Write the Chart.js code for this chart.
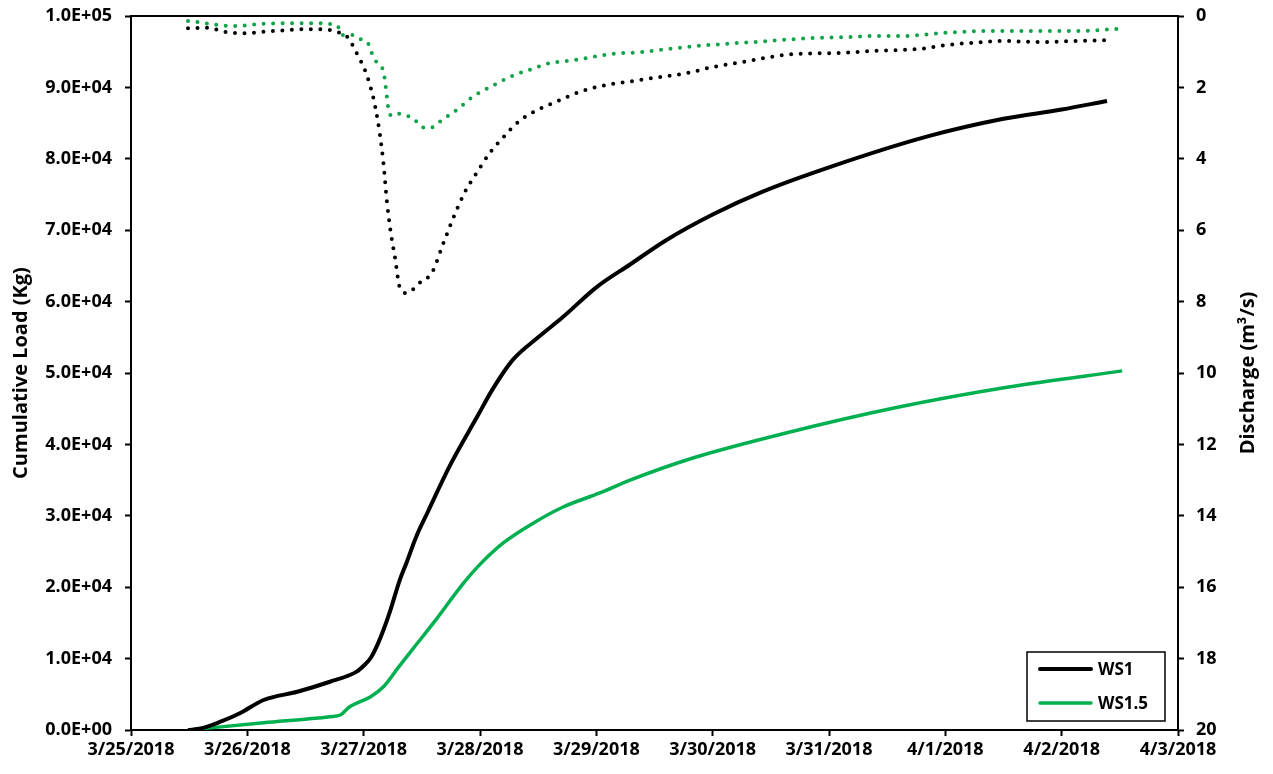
<!DOCTYPE html>
<html>
<head>
<meta charset="utf-8">
<script src="https://cdn.jsdelivr.net/npm/chart.js@4/dist/chart.umd.min.js"></script>
<style>
html,body{margin:0;padding:0;background:#fff;}
#wrap{width:1273px;height:774px;position:relative;}
</style>
</head>
<body>
<div id="wrap"><canvas id="c" width="1273" height="774"></canvas></div>
<script>
// X tick labels (one per day, starting 3/25/2018 at x = 0)
const dateLabels = ['3/25/2018','3/26/2018','3/27/2018','3/28/2018','3/29/2018','3/30/2018','3/31/2018','4/1/2018','4/2/2018','4/3/2018'];
const dischargeTicks = [0,2,4,6,8,10,12,14,16,18,20];

// WS1 cumulative load (days since 3/25/2018, kg)
const ws1LoadTime = [0.49,0.6,0.77,0.94,1.14,1.43,1.71,1.94,2.0,2.06,2.12,2.17,2.23,2.31,2.37,2.45,2.55,2.74,2.98,3.1,3.28,3.5,3.71,4.0,4.29,4.6,5.0,5.43,6.0,6.84,7.5,8.0,8.39];
const ws1Load     = [0,200,1160,2380,4200,5360,6760,8170,9000,10080,12000,14000,16800,21000,23500,27000,30500,37000,44000,47500,51800,55000,57800,62000,65200,68600,72200,75400,78800,83100,85600,86900,88100];

// WS1.5 cumulative load
const ws15LoadTime = [0.49,1.14,1.71,1.8,1.88,2.06,2.17,2.3,2.43,2.6,2.86,3.0,3.2,3.45,3.71,4.03,4.29,4.83,5.63,6.59,7.53,8.52];
const ws15Load     = [0,1000,1860,2100,3260,4670,6060,8800,11500,15000,20600,23200,26200,28900,31200,33200,35000,38100,41600,45200,48000,50300];

// WS1 discharge (m3/s)
const ws1QTime = [0.49,0.65,0.82,0.98,1.22,1.54,1.71,1.78,1.86,1.94,2.01,2.06,2.10,2.14,2.17,2.20,2.23,2.27,2.31,2.37,2.48,2.59,2.68,2.77,2.87,2.96,3.09,3.20,3.30,3.43,3.65,3.86,4.09,4.32,4.48,4.78,5.00,5.26,5.49,5.73,6.04,6.38,6.78,7.02,7.33,7.50,7.82,8.13,8.44];
const ws1Q     = [0.34,0.33,0.45,0.48,0.42,0.37,0.39,0.45,0.59,1.04,1.51,2.0,2.55,3.33,4.12,5.2,6.0,6.78,7.6,7.76,7.48,7.17,6.41,5.66,4.93,4.45,3.81,3.40,3.05,2.74,2.41,2.12,1.93,1.82,1.74,1.60,1.43,1.29,1.15,1.06,1.04,0.98,0.92,0.81,0.73,0.70,0.73,0.70,0.67];

// WS1.5 discharge (m3/s)
const ws15QTime = [0.49,0.58,0.74,0.91,1.13,1.39,1.63,1.71,1.78,1.81,1.91,1.97,2.04,2.07,2.11,2.16,2.18,2.19,2.20,2.21,2.24,2.31,2.38,2.44,2.50,2.57,2.63,2.69,2.76,2.82,2.89,2.95,3.02,3.09,3.16,3.30,3.45,3.60,3.75,3.91,4.14,4.39,4.63,4.87,5.11,5.35,5.60,5.84,6.16,6.41,6.64,6.96,7.36,7.76,8.10,8.50];
const ws15Q     = [0.14,0.17,0.25,0.28,0.22,0.20,0.20,0.22,0.30,0.53,0.53,0.64,0.78,1.04,1.29,1.46,1.73,1.99,2.27,2.55,2.80,2.74,2.80,2.91,3.11,3.14,3.02,2.88,2.72,2.58,2.38,2.24,2.10,1.99,1.86,1.65,1.48,1.32,1.26,1.18,1.06,1.01,0.92,0.84,0.78,0.73,0.67,0.62,0.59,0.56,0.56,0.48,0.42,0.42,0.42,0.36];

function pts(t, v){ return t.map((x,i)=>({x:x, y:v[i]})); }

const FONT = "'Open Sans', 'Noto Sans', sans-serif";
const BLACK = '#000000';
const GREEN = '#00B050';
const GREEN_DOT = '#10A348';

function sci(v){
  if (v === 0) return '0.0E+00';
  const e = Math.floor(Math.log10(Math.abs(v)) + 1e-9);
  const m = v / Math.pow(10, e);
  return m.toFixed(1) + 'E' + (e >= 0 ? '+' : '-') + String(Math.abs(e)).padStart(2,'0');
}

const frame = {
  id: 'frame',
  afterDraw(chart){
    const {ctx, chartArea:a} = chart;
    ctx.save();
    ctx.strokeStyle = '#000'; ctx.lineWidth = 2;
    ctx.beginPath(); ctx.moveTo(a.left, a.top); ctx.lineTo(a.right, a.top); ctx.stroke();
    ctx.fillStyle = '#000';
    ctx.font = 'bold 20px ' + FONT;
    ctx.translate(1248, (a.top + a.bottom)/2);
    ctx.rotate(-Math.PI/2);
    ctx.textAlign = 'center'; ctx.textBaseline = 'middle';
    ctx.fillText('Discharge (m\u00B3/s)', 0, 0);
    ctx.restore();

    ctx.save();
    const bx = 1027, by = 652, bw = 138, bh = 69;
    ctx.fillStyle = '#fff'; ctx.fillRect(bx, by, bw, bh);
    ctx.strokeStyle = '#000'; ctx.lineWidth = 1.5;
    ctx.strokeRect(bx, by, bw, bh);
    const items = chart.data.datasets.filter(d => d.inLegend);
    items.forEach((d, i) => {
      const y = 669 + i*34;
      ctx.strokeStyle = d.borderColor; ctx.lineWidth = d.borderWidth;
      ctx.lineCap = 'round';
      ctx.beginPath(); ctx.moveTo(1040, y); ctx.lineTo(1091, y); ctx.stroke();
      ctx.fillStyle = '#000'; ctx.font = 'bold 17px ' + FONT;
      ctx.textAlign = 'left'; ctx.textBaseline = 'middle';
      ctx.fillText(d.label, 1098, y + 1);
    });
    ctx.restore();
  }
};

function vFit(w){ return function(s){ s.width = w; s.paddingTop = 0; s.paddingBottom = 0; }; }

new Chart(document.getElementById('c'), {
  type: 'line',
  data: {
    datasets: [
      { label: 'WS1 Q', data: pts(ws1QTime, ws1Q), yAxisID: 'y2', borderColor: BLACK, borderWidth: 4, borderDash: [0, 9.5], borderCapStyle: 'round', pointRadius: 0, cubicInterpolationMode: 'monotone', fill: false },
      { label: 'WS1.5 Q', data: pts(ws15QTime, ws15Q), yAxisID: 'y2', borderColor: GREEN_DOT, borderWidth: 4, borderDash: [0, 9.5], borderCapStyle: 'round', pointRadius: 0, cubicInterpolationMode: 'monotone', fill: false },
      { label: 'WS1', inLegend: true, data: pts(ws1LoadTime, ws1Load), yAxisID: 'y', borderColor: BLACK, borderWidth: 4, pointRadius: 0, cubicInterpolationMode: 'monotone', fill: false },
      { label: 'WS1.5', inLegend: true, data: pts(ws15LoadTime, ws15Load), yAxisID: 'y', borderColor: GREEN, borderWidth: 3.5, pointRadius: 0, cubicInterpolationMode: 'monotone', fill: false }
    ]
  },
  options: {
    responsive: false,
    animation: false,
    layout: { padding: { top: 16, left: 0, right: 0, bottom: 0 } },
    plugins: { legend: { display: false }, tooltip: { enabled: false } },
    scales: {
      x: {
        type: 'linear', min: 0, max: 9,
        afterFit(s){ s.height = 44; s.paddingLeft = 0; s.paddingRight = 0; },
        afterBuildTicks(s){ s.ticks = dateLabels.map((_, i) => ({ value: i })); },
        ticks: { stepSize: 1, color: '#000', font: { family: FONT, size: 18, weight: 'bold' }, padding: 3, maxRotation: 0, autoSkip: false,
                 callback: (v) => dateLabels[v] },
        grid: { drawOnChartArea: false, tickLength: 6, tickWidth: 2, color: '#000' },
        border: { color: '#000', width: 2 }
      },
      y: {
        position: 'left', min: 0, max: 100000,
        afterFit: vFit(131),
        ticks: { stepSize: 10000, color: '#000', font: { family: FONT, size: 18, weight: 'bold' }, padding: 13, callback: (v) => sci(v) },
        grid: { drawOnChartArea: false, tickLength: 6, tickWidth: 2, color: '#000' },
        border: { color: '#000', width: 2 },
        title: { display: true, text: 'Cumulative Load (Kg)', color: '#000', font: { family: FONT, size: 20, weight: 'bold' }, padding: { top: 9, bottom: 0 } }
      },
      y2: {
        position: 'right', min: 0, max: 20, reverse: true,
        afterFit: vFit(95),
        afterBuildTicks(s){ s.ticks = dischargeTicks.map(v => ({ value: v })); },
        ticks: { color: '#000', font: { family: FONT, size: 18, weight: 'bold' }, padding: 12 },
        grid: { drawOnChartArea: false, tickLength: 6, tickWidth: 2, color: '#000' },
        border: { color: '#000', width: 2 }
      }
    }
  },
  plugins: [frame]
});
</script>
</body>
</html>
